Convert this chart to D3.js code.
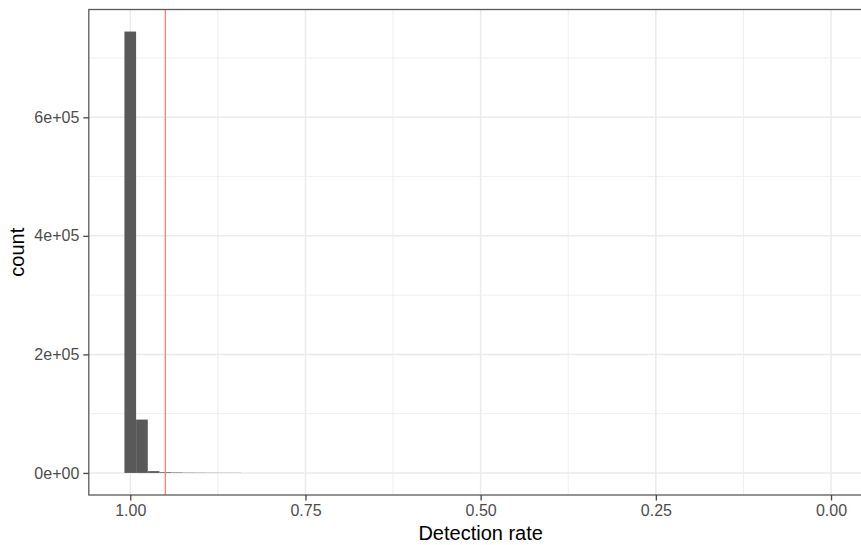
<!DOCTYPE html>
<html>
<head>
<meta charset="utf-8">
<script src="https://cdn.jsdelivr.net/npm/d3@7"></script>
<style>
  body { margin: 0; background: #fff; }
  text { font-family: "Liberation Sans", Arial, Helvetica, sans-serif; }
</style>
</head>
<body>
<svg width="861" height="545"></svg>
<script>
// histogram of detection rate, bins of width 1/60 (only the non-empty ones)
const binWidth = 1 / 60;
const binCenters = [1.0, 0.98333, 0.96667, 0.95, 0.93333, 0.91667, 0.9, 0.88333, 0.86667, 0.85];
const binCounts = [744700, 90000, 3000, 1200, 800, 500, 400, 300, 250, 200];
const rateRange = [0, 1];           // observed extent of the data
const cutoff = 0.95;                // red reference line
const xTicks = [1.0, 0.75, 0.5, 0.25, 0.0];
const xMinor = [0.875, 0.625, 0.375, 0.125];
const yTicks = [0, 200000, 400000, 600000];
const yMinor = [100000, 300000, 500000, 700000];

const svg = d3.select("svg");
const panel = { left: 88.8, right: 872.5, top: 9.5, bottom: 495 };

// ggplot-style 5% expansion
const lo = rateRange[0] - binWidth / 2, hi = rateRange[1] + binWidth / 2;
const padX = (hi - lo) * 0.05;
var x = d3.scaleLinear()
    .domain([hi + padX, lo - padX])
    .range([panel.left, panel.right]);

const maxCount = d3.max(binCounts);
var y = d3.scaleLinear()
    .domain([-0.05 * maxCount, 1.05 * maxCount])
    .range([panel.bottom, panel.top]);

const grid = svg.append("g");
grid.selectAll("line.minorx").data(xMinor).enter().append("line")
    .attr("x1", d => x(d)).attr("x2", d => x(d))
    .attr("y1", panel.top).attr("y2", panel.bottom)
    .attr("stroke", "#ebebeb").attr("stroke-width", 0.8);
grid.selectAll("line.minory").data(yMinor).enter().append("line")
    .attr("y1", d => y(d)).attr("y2", d => y(d))
    .attr("x1", panel.left).attr("x2", panel.right)
    .attr("stroke", "#ebebeb").attr("stroke-width", 0.8);
grid.selectAll("line.majorx").data(xTicks).enter().append("line")
    .attr("x1", d => x(d)).attr("x2", d => x(d))
    .attr("y1", panel.top).attr("y2", panel.bottom)
    .attr("stroke", "#ebebeb").attr("stroke-width", 1.5);
grid.selectAll("line.majory").data(yTicks).enter().append("line")
    .attr("y1", d => y(d)).attr("y2", d => y(d))
    .attr("x1", panel.left).attr("x2", panel.right)
    .attr("stroke", "#ebebeb").attr("stroke-width", 1.5);

// bars
svg.append("g").selectAll("rect")
    .data(binCenters.map((c, i) => ({ c: c, n: binCounts[i] })))
    .enter().append("rect")
    .attr("x", d => x(d.c + binWidth / 2))
    .attr("width", d => x(d.c - binWidth / 2) - x(d.c + binWidth / 2))
    .attr("y", d => y(d.n))
    .attr("height", d => y(0) - y(d.n))
    .attr("fill", "#595959");

svg.append("line")
    .attr("x1", x(cutoff)).attr("x2", x(cutoff))
    .attr("y1", panel.top).attr("y2", panel.bottom)
    .attr("stroke", "#ff7a7a").attr("stroke-width", 1.3);

svg.append("rect")
    .attr("x", panel.left).attr("y", panel.top)
    .attr("width", panel.right - panel.left).attr("height", panel.bottom - panel.top)
    .attr("fill", "none").attr("stroke", "#5a5a5a").attr("stroke-width", 1.3);

// axes
const xAxis = svg.append("g")
    .attr("transform", "translate(0," + panel.bottom + ")")
    .call(d3.axisBottom(x).tickValues(xTicks).tickSize(5.5).tickPadding(4)
        .tickFormat(d3.format(".2f")));
const yAxis = svg.append("g")
    .attr("transform", "translate(" + panel.left + ",0)")
    .call(d3.axisLeft(y).tickValues(yTicks).tickSize(5.5).tickPadding(4)
        .tickFormat(d => d === 0 ? "0e+00" : d3.format(".0e")(d).replace("e+", "e+0")));
[xAxis, yAxis].forEach(a => {
  a.select(".domain").remove();
  a.selectAll(".tick line").attr("stroke", "#444444").attr("stroke-width", 1.3);
  a.selectAll(".tick text").attr("fill", "#4d4d4d").style("font-size", "16px")
    .style("font-family", "'Liberation Sans', Arial, sans-serif");
});

svg.append("text")
    .attr("x", (x(1) + x(0)) / 2).attr("y", 539.5)
    .attr("text-anchor", "middle").style("font-size", "20px")
    .text("Detection rate");
svg.append("text")
    .attr("transform", "translate(24," + (panel.top + panel.bottom) / 2 + ") rotate(-90)")
    .attr("text-anchor", "middle").style("font-size", "20px")
    .text("count");
</script>
</body>
</html>
